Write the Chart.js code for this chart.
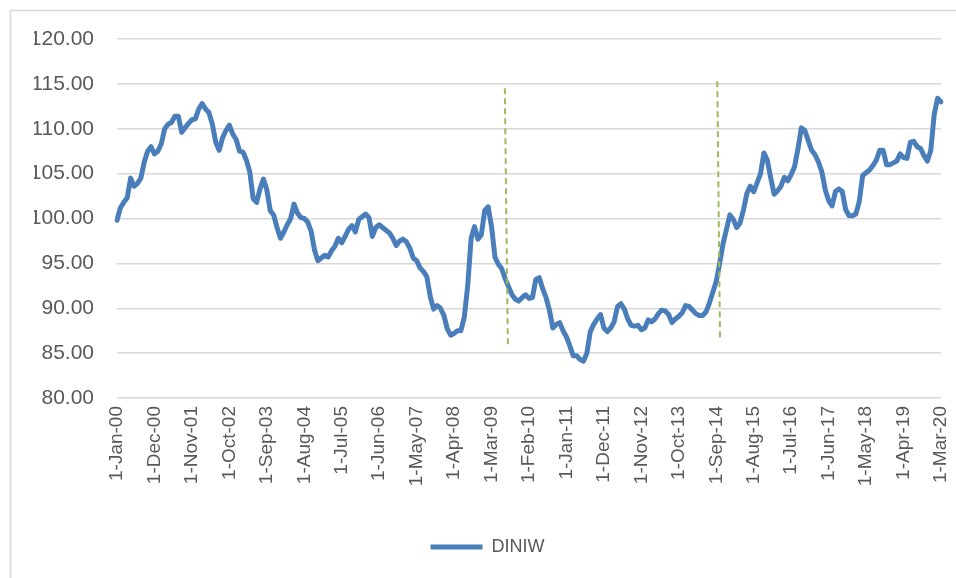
<!DOCTYPE html>
<html>
<head>
<meta charset="utf-8">
<script src="https://cdn.jsdelivr.net/npm/chart.js@4/dist/chart.umd.min.js"></script>
<style>
  html, body { margin: 0; padding: 0; background: #ffffff; }
  canvas { display: block; }
</style>
</head>
<body>
<canvas id="c" width="956" height="578"></canvas>
<script>
// ---- data ----
const seriesName = 'DINIW';
const monthNames = ['Jan','Feb','Mar','Apr','May','Jun','Jul','Aug','Sep','Oct','Nov','Dec'];
const startYear = 2000;
const labelStep = 11;
const diniw = [
  99.8, 101.2, 101.8, 102.3, 104.5, 103.6, 103.9, 104.5, 106.3, 107.5, 108.0, 107.2,
  107.5, 108.3, 110.0, 110.5, 110.7, 111.4, 111.4, 109.6, 110.1, 110.6, 111.0, 111.1,
  112.2, 112.8, 112.2, 111.8, 110.5, 108.5, 107.6, 109.0, 109.8, 110.4, 109.4, 108.8,
  107.5, 107.4, 106.5, 105.2, 102.2, 101.8, 103.3, 104.4, 103.2, 100.9, 100.4, 99.0,
  97.8, 98.5, 99.3, 100.0, 101.6, 100.6, 100.1, 100.0, 99.6, 98.6, 96.5, 95.3,
  95.6, 95.9, 95.7, 96.4, 96.9, 97.8, 97.3, 98.0, 98.8, 99.2, 98.5, 99.9,
  100.2, 100.5, 100.1, 98.0, 99.0, 99.3, 99.0, 98.7, 98.4, 97.8, 97.0, 97.5,
  97.7, 97.4, 96.7, 95.6, 95.3, 94.5, 94.1, 93.5, 91.3, 89.9, 90.3, 90.0,
  89.2, 87.7, 87.0, 87.2, 87.5, 87.5, 89.0, 92.5, 97.8, 99.1, 97.7, 98.2,
  100.9, 101.3, 99.1, 95.7, 94.9, 94.4, 93.3, 92.4, 91.5, 91.0, 90.8, 91.2,
  91.5, 91.1, 91.2, 93.2, 93.4, 92.2, 91.2, 89.8, 87.8, 88.2, 88.4, 87.5,
  86.8, 85.8, 84.7, 84.7, 84.3, 84.1, 85.0, 87.4, 88.2, 88.8, 89.3, 87.8,
  87.4, 87.8, 88.5, 90.2, 90.5, 89.9, 88.8, 88.1, 88.0, 88.1, 87.6, 87.8,
  88.7, 88.5, 88.8, 89.4, 89.8, 89.7, 89.3, 88.4, 88.8, 89.1, 89.5, 90.3,
  90.2, 89.8, 89.4, 89.2, 89.2, 89.6, 90.6, 91.8, 93.0, 95.0, 97.2, 98.8,
  100.4, 99.9, 99.0, 99.5, 101.0, 102.8, 103.6, 103.0, 104.0, 105.0, 107.3, 106.5,
  104.5, 102.7, 103.1, 103.6, 104.6, 104.2, 104.9, 105.8, 107.8, 110.1, 109.8, 108.7,
  107.6, 107.1, 106.3, 105.2, 103.2, 102.0, 101.4, 103.0, 103.3, 103.0, 101.0, 100.3,
  100.3, 100.5, 101.9, 104.8, 105.1, 105.4, 105.9, 106.5, 107.6, 107.6, 106.0, 106.0,
  106.2, 106.4, 107.2, 106.8, 106.7, 108.5, 108.6, 108.0, 107.8, 107.0, 106.4, 107.6,
  111.6, 113.4, 113.0
];
// dashed marker lines (in category-index / value units)
const markerStartX = [113.9, 176.3];
const markerEndX   = [114.8, 177.1];
const markerTopY   = [114.5, 115.3];
const markerBottomY = [85.6, 86.4];
const yMin = 80, yMax = 120, yStep = 5;

const labels = diniw.map((_, i) =>
  '1-' + monthNames[i % 12] + '-' + String((startYear + Math.floor(i / 12)) % 100).padStart(2, '0'));

const FONT = '"Liberation Sans", Arial, sans-serif';
const lineColor = '#4a7ebb';

const frame = {
  id: 'frame',
  beforeDraw(chart) {
    const ctx = chart.ctx;
    ctx.save();
    ctx.fillStyle = '#ffffff';
    ctx.fillRect(0, 0, chart.width, chart.height);
    ctx.strokeStyle = '#d9d9d9';
    ctx.lineWidth = 1.5;
    ctx.strokeRect(10.5, 10.5, chart.width + 20, chart.height + 20);
    ctx.restore();
  }
};

const markers = {
  id: 'markers',
  afterDatasetsDraw(chart) {
    const ctx = chart.ctx, xs = chart.scales.x, ys = chart.scales.y;
    ctx.save();
    ctx.strokeStyle = '#9bbb59';
    ctx.lineWidth = 2;
    ctx.setLineDash([6, 4]);
    for (let k = 0; k < markerStartX.length; k++) {
      ctx.beginPath();
      ctx.moveTo(xs.getPixelForValue(markerStartX[k]), ys.getPixelForValue(markerTopY[k]));
      ctx.lineTo(xs.getPixelForValue(markerEndX[k]), ys.getPixelForValue(markerBottomY[k]));
      ctx.stroke();
    }
    ctx.restore();
  }
};

new Chart(document.getElementById('c'), {
  type: 'line',
  data: {
    labels: labels,
    datasets: [{
      label: seriesName,
      data: diniw,
      borderColor: lineColor,
      backgroundColor: lineColor,
      borderWidth: 5,
      pointRadius: 0,
      tension: 0,
      borderCapStyle: 'round',
      borderJoinStyle: 'round',
      fill: false
    }]
  },
  options: {
    responsive: false,
    animation: false,
    devicePixelRatio: 1,
    layout: { padding: { left: 34, right: 15, top: 39, bottom: 12 } },
    plugins: {
      tooltip: { enabled: false },
      legend: {
        position: 'bottom',
        labels: {
          usePointStyle: true,
          pointStyle: 'line',
          pointStyleWidth: 52,
          padding: 10,
          color: '#595959',
          font: { family: FONT, size: 18 }
        }
      }
    },
    scales: {
      x: {
        offset: false,
        grid: { display: false, drawTicks: false },
        border: { display: false },
        afterFit(s) { s.height = 130; s.paddingLeft = 0; s.paddingRight = 0; },
        ticks: {
          autoSkip: false,
          maxRotation: 90,
          minRotation: 90,
          padding: 8,
          color: '#595959',
          font: { family: FONT, size: 19 },
          callback(val, idx) { return idx % labelStep === 0 ? this.getLabelForValue(val) : null; }
        }
      },
      y: {
        min: yMin, max: yMax,
        afterFit(s) { s.width = 83; s.paddingTop = 0; s.paddingBottom = 0; },
        grid: { color: '#d9d9d9', lineWidth: 1.5, drawTicks: false },
        border: { display: false },
        ticks: {
          stepSize: yStep,
          padding: 23,
          color: '#595959',
          font: { family: FONT, size: 21 },
          callback(v) { return v.toFixed(2); }
        }
      }
    }
  },
  plugins: [frame, markers]
});
</script>
</body>
</html>
